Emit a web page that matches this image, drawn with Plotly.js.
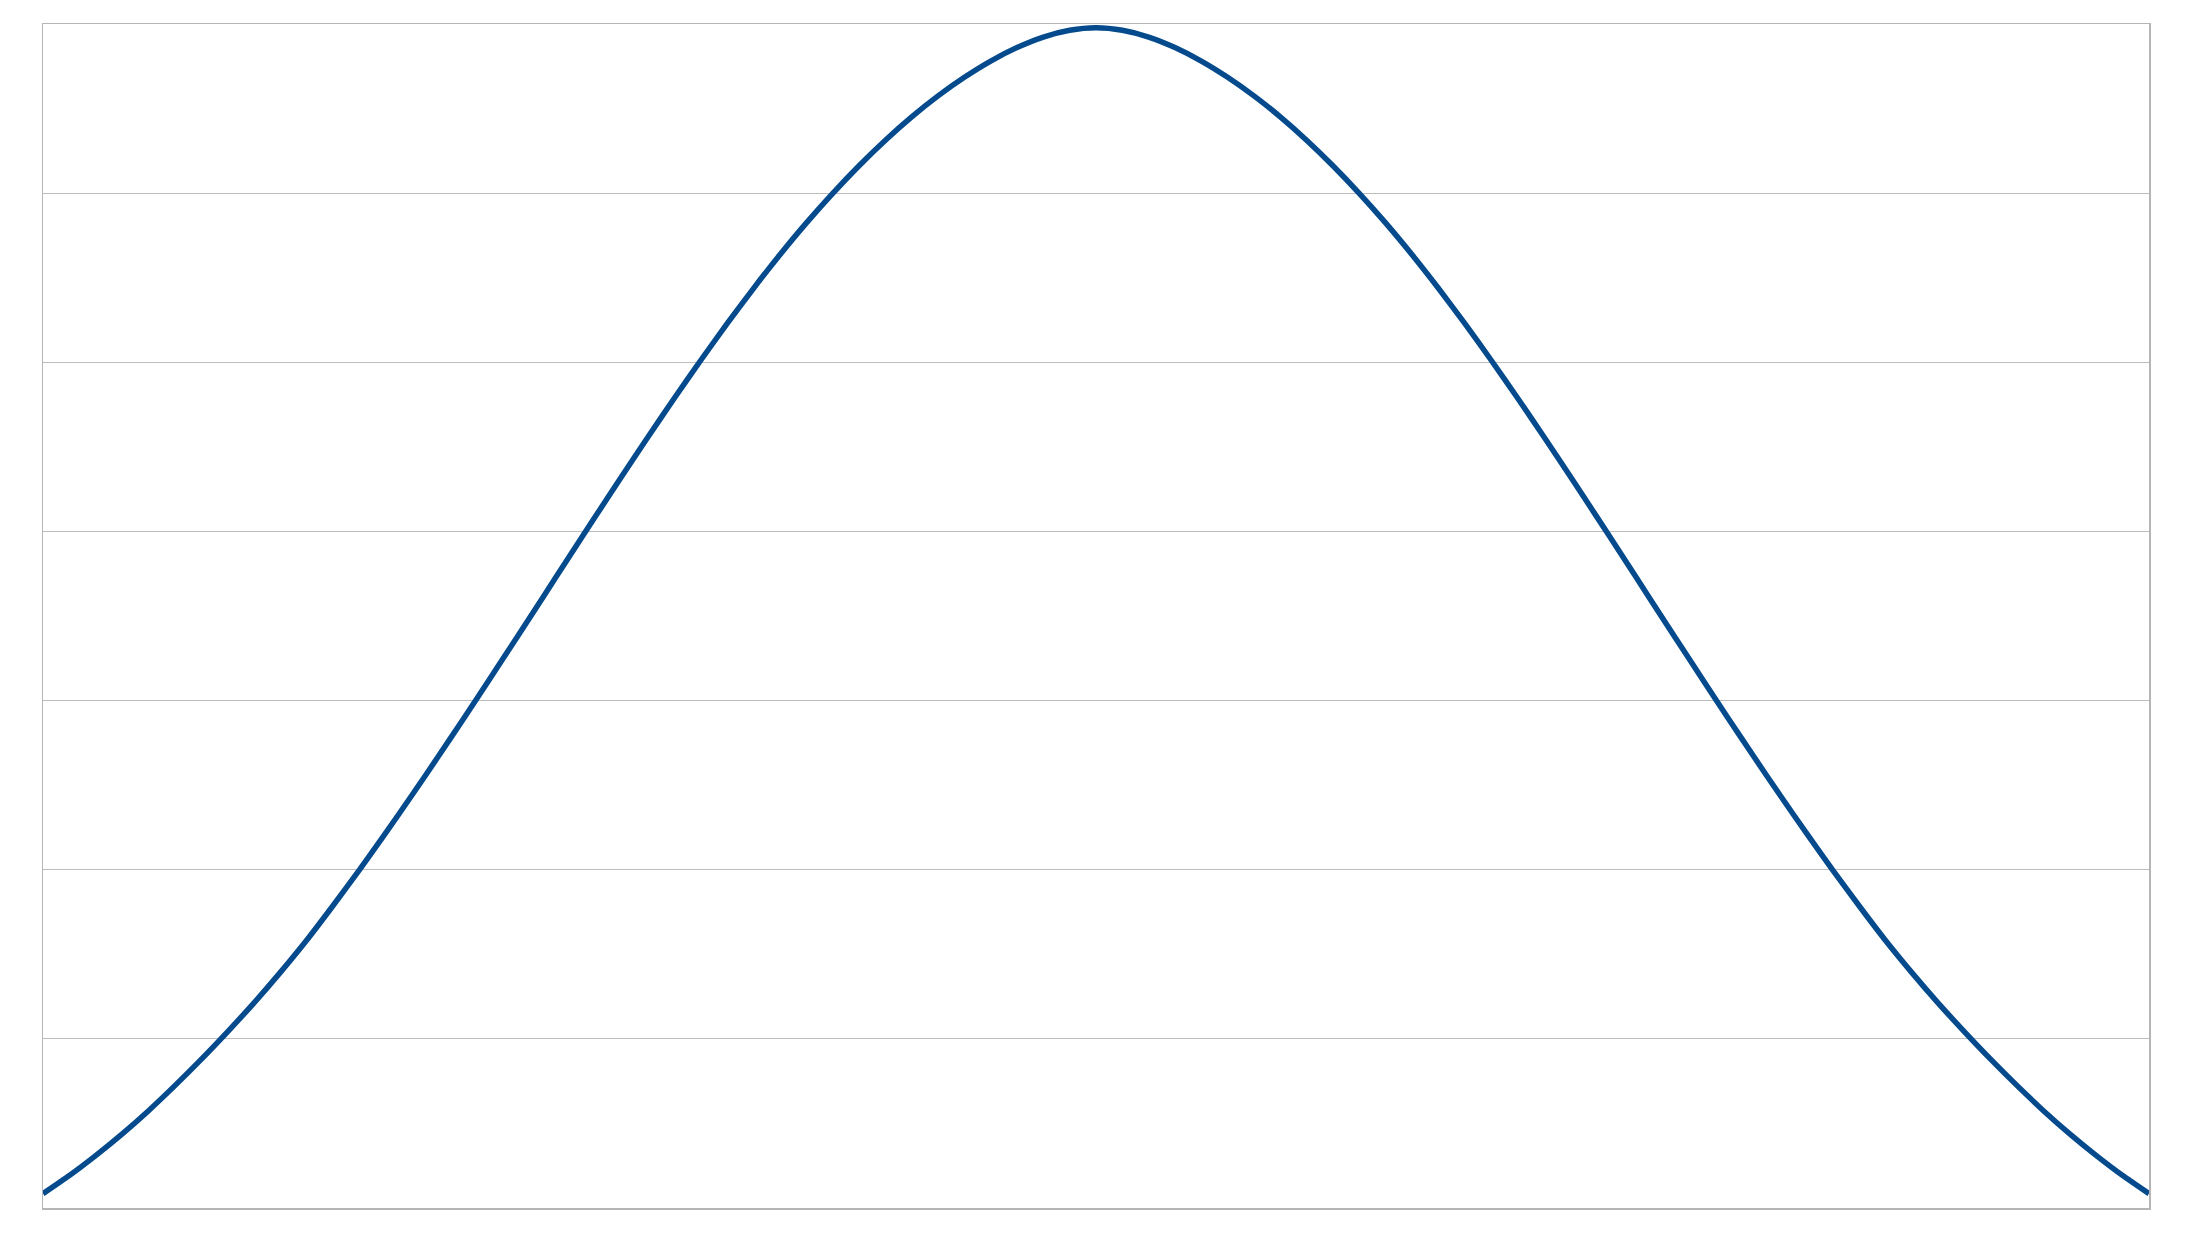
<!DOCTYPE html>
<html>
<head>
<meta charset="utf-8">
<script src="https://cdn.plot.ly/plotly-3.0.1.min.js"></script>
<style>
  html, body { margin: 0; padding: 0; background: #ffffff; }
  #curve { width: 2193px; height: 1233px; }
</style>
</head>
<body>
<div id="curve"></div>
<script>
// sample positions, symmetric about the peak
var xValues = [
  -40, -39, -38, -37, -36, -35, -34, -33, -32, -31,
  -30, -29, -28, -27, -26, -25, -24, -23, -22, -21,
  -20, -19, -18, -17, -16, -15, -14, -13, -12, -11,
  -10,  -9,  -8,  -7,  -6,  -5,  -4,  -3,  -2,  -1,
    0,
    1,   2,   3,   4,   5,   6,   7,   8,   9,  10,
   11,  12,  13,  14,  15,  16,  17,  18,  19,  20,
   21,  22,  23,  24,  25,  26,  27,  28,  29,  30,
   31,  32,  33,  34,  35,  36,  37,  38,  39,  40
];

// curve heights (in gridline units)
var yValues = [
  0.085, 0.192, 0.310, 0.437, 0.574, 0.722, 0.877, 1.040, 1.210, 1.390,
  1.580, 1.784, 1.995, 2.213, 2.437, 2.666, 2.899, 3.135, 3.373, 3.613,
  3.853, 4.092, 4.329, 4.563, 4.792, 5.015, 5.231, 5.439, 5.637, 5.824,
  5.999, 6.162, 6.313, 6.451, 6.575, 6.685, 6.781, 6.861, 6.923, 6.963,
  6.978,
  6.963, 6.923, 6.861, 6.781, 6.685, 6.575, 6.451, 6.313, 6.162, 5.999,
  5.824, 5.637, 5.439, 5.231, 5.015, 4.792, 4.563, 4.329, 4.092, 3.853,
  3.613, 3.373, 3.135, 2.899, 2.666, 2.437, 2.213, 1.995, 1.784, 1.580,
  1.390, 1.210, 1.040, 0.877, 0.722, 0.574, 0.437, 0.310, 0.192, 0.085
];

function plotCurve() {
  var curve = {
    x: xValues,
    y: yValues,
    mode: "lines",
    type: "scatter",
    line: { color: "#044a8c", width: 5.5, shape: "spline", smoothing: 0.6 },
    hoverinfo: "skip"
  };
  var layout = {
    width: 2193,
    height: 1233,
    margin: { l: 43, r: 44, t: 24, b: 25, pad: 0 },
    paper_bgcolor: "#ffffff",
    plot_bgcolor: "#ffffff",
    showlegend: false,
    xaxis: {
      range: [-40, 40],
      showgrid: false,
      zeroline: false,
      showticklabels: false,
      ticks: "",
      showline: true,
      mirror: true,
      linecolor: "#b5b5b5",
      linewidth: 1.5
    },
    yaxis: {
      range: [0, 7],
      dtick: 1,
      showgrid: true,
      gridcolor: "#bcbcbc",
      gridwidth: 1,
      zeroline: false,
      showticklabels: false,
      ticks: "",
      showline: true,
      mirror: true,
      linecolor: "#b5b5b5",
      linewidth: 1.5
    }
  };
  Plotly.newPlot("curve", [curve], layout, { staticPlot: true, displayModeBar: false });
}
plotCurve();
</script>
</body>
</html>
